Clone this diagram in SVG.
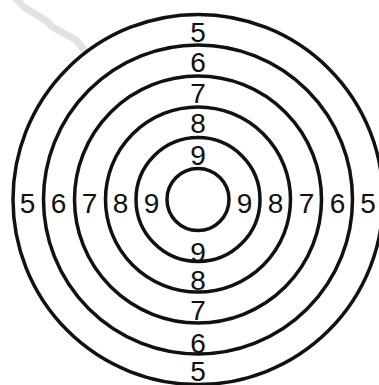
<svg xmlns="http://www.w3.org/2000/svg" width="379" height="385" viewBox="0 0 379 385">
<style>
.ring{fill:none;stroke:#111;stroke-width:3.5}
.lbl{font-family:"Liberation Sans",Arial,sans-serif;font-size:28px;fill:#111;text-anchor:middle}
</style>
<rect width="379" height="385" fill="#fff"/>
<polyline points="14,-3 24,7 27,9 48,22 51,26 76,40 79,44 86,52" fill="none" stroke="#e2e2e2" stroke-width="7"/>
<g id="ring5">
<circle class="ring" cx="198" cy="199.5" r="185"/>
<text class="lbl" x="198" y="42">5</text>
<text class="lbl" x="198" y="380.5">5</text>
<text class="lbl" x="27.5" y="213">5</text>
<text class="lbl" x="368" y="213">5</text>
</g>
<g id="ring6">
<circle class="ring" cx="198" cy="199.5" r="154.5"/>
<text class="lbl" x="198" y="72">6</text>
<text class="lbl" x="198" y="353">6</text>
<text class="lbl" x="58.5" y="213">6</text>
<text class="lbl" x="337.5" y="213">6</text>
</g>
<g id="ring7">
<circle class="ring" cx="198" cy="199.5" r="123.5"/>
<text class="lbl" x="198" y="103">7</text>
<text class="lbl" x="198" y="320">7</text>
<text class="lbl" x="89.5" y="213">7</text>
<text class="lbl" x="306.5" y="213">7</text>
</g>
<g id="ring8">
<circle class="ring" cx="198" cy="199.5" r="92.5"/>
<text class="lbl" x="198" y="133">8</text>
<text class="lbl" x="198" y="290">8</text>
<text class="lbl" x="120.5" y="213">8</text>
<text class="lbl" x="275.5" y="213">8</text>
</g>
<g id="ring9">
<circle class="ring" cx="198" cy="199.5" r="62"/>
<text class="lbl" x="198" y="165">9</text>
<text class="lbl" x="198" y="262">9</text>
<text class="lbl" x="151.5" y="213">9</text>
<text class="lbl" x="244.5" y="213">9</text>
</g>
<g id="bull">
<circle class="ring" cx="198" cy="199.5" r="31"/>
</g>
<g id="connectors"/>
</svg>
